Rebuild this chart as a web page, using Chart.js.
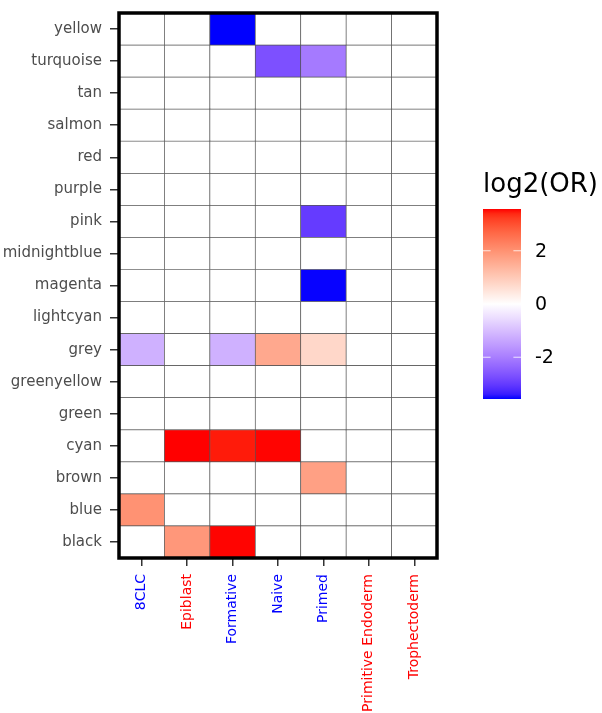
<!DOCTYPE html>
<html>
<head>
<meta charset="utf-8">
<script src="https://cdn.jsdelivr.net/npm/chart.js@4"></script>
<style>
  body { margin: 0; background: #fff; }
</style>
</head>
<body>
<canvas id="chart" width="602" height="713"></canvas>
<script>
// rows go bottom to top, same order as every column array below
const modules = ["black", "blue", "brown", "cyan", "green", "greenyellow", "grey", "lightcyan",
  "magenta", "midnightblue", "pink", "purple", "red", "salmon", "tan", "turquoise", "yellow"];
const cellTypes = ["8CLC", "Epiblast", "Formative", "Naive", "Primed", "Primitive Endoderm", "Trophectoderm"];
const cellTypeColors = ["#0000FF", "#FF0000", "#0000FF", "#0000FF", "#0000FF", "#FF0000", "#FF0000"];

// log2(OR) per cell type, 0 = not enriched
const clc8      = [0, 2.0, 0, 0, 0, 0, -1.2, 0, 0, 0, 0, 0, 0, 0, 0, 0, 0];
const epiblast  = [1.9, 0, 0, 3.57, 0, 0, 0, 0, 0, 0, 0, 0, 0, 0, 0, 0, 0];
const formative = [3.56, 0, 0, 3.48, 0, 0, -1.2, 0, 0, 0, 0, 0, 0, 0, 0, 0, -3.57];
const naive     = [0, 0, 0, 3.56, 0, 0, 1.6, 0, 0, 0, 0, 0, 0, 0, 0, -2.7, 0];
const primed    = [0, 0, 1.75, 0, 0, 0, 0.75, 0, -3.56, 0, -3.0, 0, 0, 0, 0, -2.05, 0];
const primEndo  = [0, 0, 0, 0, 0, 0, 0, 0, 0, 0, 0, 0, 0, 0, 0, 0, 0];
const trophecto = [0, 0, 0, 0, 0, 0, 0, 0, 0, 0, 0, 0, 0, 0, 0, 0, 0];
const columns = [clc8, epiblast, formative, naive, primed, primEndo, trophecto];

const legendTicks = [-2, 0, 2];
const legendTitle = "log2(OR)";

const allValues = columns.flat();
const vMin = Math.min(...allValues);
const vMax = Math.max(...allValues);
const maxAbs = Math.max(Math.abs(vMin), Math.abs(vMax));

// colour like scale_fill_gradient2 (blue / white / red, Lab interpolation)
function lin(c) { c /= 255; return c <= 0.04045 ? c / 12.92 : Math.pow((c + 0.055) / 1.055, 2.4); }
function toLab(rgb) {
  const R = lin(rgb[0]), G = lin(rgb[1]), B = lin(rgb[2]);
  const X = (0.4124 * R + 0.3576 * G + 0.1805 * B) / 0.95047;
  const Y = 0.2126 * R + 0.7152 * G + 0.0722 * B;
  const Z = (0.0193 * R + 0.1192 * G + 0.9505 * B) / 1.08883;
  const f = t => t > 0.008856 ? Math.cbrt(t) : 7.787 * t + 16 / 116;
  return [116 * f(Y) - 16, 500 * (f(X) - f(Y)), 200 * (f(Y) - f(Z))];
}
function fromLab(lab) {
  const fy = (lab[0] + 16) / 116, fx = fy + lab[1] / 500, fz = fy - lab[2] / 200;
  const inv = t => t * t * t > 0.008856 ? t * t * t : (t - 16 / 116) / 7.787;
  const X = inv(fx) * 0.95047, Y = inv(fy), Z = inv(fz) * 1.08883;
  const rgb = [3.2406 * X - 1.5372 * Y - 0.4986 * Z,
    -0.9689 * X + 1.8758 * Y + 0.0415 * Z,
    0.0557 * X - 0.2040 * Y + 1.0570 * Z];
  return rgb.map(c => {
    c = c <= 0.0031308 ? 12.92 * c : 1.055 * Math.pow(c, 1 / 2.4) - 0.055;
    return Math.round(Math.min(1, Math.max(0, c)) * 255);
  });
}
const labLow = toLab([0, 0, 255]), labMid = toLab([255, 255, 255]), labHigh = toLab([255, 0, 0]);
function fillColor(v) {
  const t = v / maxAbs / 2 + 0.5;
  let a, b, s;
  if (t < 0.5) { a = labLow; b = labMid; s = t / 0.5; }
  else { a = labMid; b = labHigh; s = (t - 0.5) / 0.5; }
  const c = fromLab([0, 1, 2].map(k => a[k] + (b[k] - a[k]) * s));
  return "rgb(" + c.join(",") + ")";
}

// one floating-bar dataset per row, spanning [row, row + 1]
const datasets = modules.map((m, r) => ({
  label: m,
  data: cellTypes.map(() => [r, r + 1]),
  backgroundColor: columns.map(col => fillColor(col[r])),
  borderColor: "#555",
  borderWidth: 0.7,
  borderSkipped: false,
  barPercentage: 1,
  categoryPercentage: 1
}));

const panelBox = {
  id: "panelBox",
  afterDraw(chart) {
    const ctx = chart.ctx, a = chart.chartArea;
    ctx.save();
    ctx.strokeStyle = "#000";
    ctx.lineWidth = 3.5;
    ctx.strokeRect(a.left, a.top, a.right - a.left, a.bottom - a.top);

    // colour bar legend
    const barW = 38, barH = 190, titleH = 37;
    const x0 = a.right + 46;
    const y0 = (a.top + a.bottom) / 2 - (titleH + barH) / 2 + titleH;
    const grad = ctx.createLinearGradient(0, y0, 0, y0 + barH);
    for (let i = 0; i <= 40; i++) {
      grad.addColorStop(i / 40, fillColor(vMax - (vMax - vMin) * i / 40));
    }
    ctx.fillStyle = grad;
    ctx.fillRect(x0, y0, barW, barH);

    ctx.fillStyle = "#000";
    ctx.font = "26px 'DejaVu Sans'";
    ctx.textAlign = "left";
    ctx.textBaseline = "alphabetic";
    ctx.fillText(legendTitle, x0, y0 - 17);

    ctx.font = "19px 'DejaVu Sans'";
    ctx.textBaseline = "middle";
    legendTicks.forEach(t => {
      const y = y0 + (vMax - t) / (vMax - vMin) * barH;
      ctx.strokeStyle = "rgba(255,255,255,0.8)";
      ctx.lineWidth = 1;
      ctx.beginPath();
      ctx.moveTo(x0, y); ctx.lineTo(x0 + barW / 5, y);
      ctx.moveTo(x0 + barW, y); ctx.lineTo(x0 + barW - barW / 5, y);
      ctx.stroke();
      ctx.fillText(String(t), x0 + barW + 14, y + 1);
    });
    ctx.restore();
  }
};

new Chart("chart", {
  type: "bar",
  data: { labels: cellTypes, datasets: datasets },
  plugins: [panelBox],
  options: {
    responsive: false,
    animation: false,
    layout: { padding: { top: 13, right: 165, left: 0, bottom: 0 } },
    plugins: { legend: { display: false }, tooltip: { enabled: false } },
    scales: {
      x: {
        stacked: true,
        border: { display: false },
        grid: { offset: false, drawOnChartArea: false, tickLength: 8, color: "#333", lineWidth: 1.5 },
        ticks: {
          minRotation: 90, maxRotation: 90, padding: 8,
          autoSkip: false,
          color: ctx => cellTypeColors[ctx.index],
          font: { family: "DejaVu Sans", size: 14 }
        },
        afterFit(scale) { scale.height = 155; }
      },
      y: {
        type: "linear",
        min: 0, max: modules.length,
        border: { display: false },
        grid: { drawOnChartArea: false, tickLength: 9, color: "#333", lineWidth: 1.5 },
        afterBuildTicks(scale) {
          scale.ticks = modules.map((m, i) => ({ value: i + 0.5 }));
        },
        ticks: {
          padding: 8,
          color: "#4D4D4D",
          font: { family: "DejaVu Sans", size: 15 },
          callback: value => modules[Math.floor(value)]
        },
        afterFit(scale) {
          scale.width = 119;
          scale.paddingTop = 0;
          scale.paddingBottom = 0;
        }
      }
    }
  }
});
</script>
</body>
</html>
